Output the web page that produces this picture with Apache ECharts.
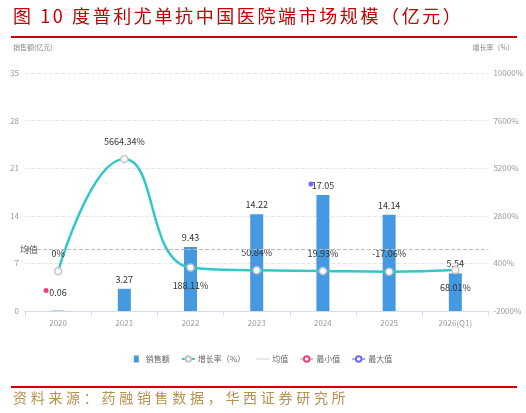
<!DOCTYPE html>
<html><head><meta charset="utf-8">
<script src="https://cdn.jsdelivr.net/npm/echarts@6/dist/echarts.min.js"></script>
<style>
html,body{margin:0;padding:0;background:#fff;width:526px;height:413px;overflow:hidden;position:relative;}
#title{position:absolute;left:13px;top:3px;font-family:"Noto Sans CJK SC",serif;font-size:18px;letter-spacing:2.6px;color:#c00000;white-space:nowrap;line-height:24px;}
.rule{position:absolute;left:11px;width:506px;height:2px;background:#cc0000;}
#src{position:absolute;left:13px;top:387px;font-family:"Noto Sans CJK SC",serif;font-size:14px;letter-spacing:3.7px;color:#b8904f;white-space:nowrap;line-height:20px;}
#chart{position:absolute;left:0;top:0;width:526px;height:413px;}
</style></head>
<body>
<div id="chart"></div>
<div id="title">图 10 度普利尤单抗中国医院端市场规模（亿元）</div>
<div class="rule" style="top:36px"></div>
<div class="rule" style="top:386px"></div>
<div id="src">资料来源：药融销售数据，华西证券研究所</div>
<script>
const categories = ['2020','2021','2022','2023','2024','2025','2026(Q1)'];
const sales = [0.06, 3.27, 9.43, 14.22, 17.05, 14.14, 5.54];
const growth = [0, 5664.34, 188.11, 50.84, 19.93, -17.06, 68.01];
const leftTicks = {min: 0, max: 35, interval: 7};
const rightTicks = {min: -2000, max: 10000, interval: 2400};

const minIdx = sales.indexOf(Math.min(...sales));
const belowIdx = new Set([2, 6]);
const gray = '#9a9a9a';

const chart = echarts.init(document.getElementById('chart'));
chart.setOption({
  animation: false,
  textStyle: {fontFamily: '"Noto Sans CJK SC", sans-serif'},
  grid: {left: 25, right: 36, top: 73, bottom: 102},
  graphic: [
    {type: 'text', left: 13, top: 44, style: {text: '销售额(亿元)', fill: '#888', font: '7px "Noto Sans CJK SC"'}},
    {type: 'text', right: 12, top: 44, style: {text: '增长率（%）', fill: '#888', font: '7px "Noto Sans CJK SC"'}}
  ],
  legend: {
    top: 350, left: 'center', itemWidth: 13, itemHeight: 7, itemGap: 11,
    textStyle: {color: '#666', fontSize: 8, padding: [0, 0, 0, -2]},
    data: [
      {name: '销售额', icon: 'path://M0,0h5v7h-5z'},
      {name: '增长率（%）'},
      {name: '均值', icon: 'path://M0,3h14v1h-14z', itemStyle: {color: '#cfcfcf'}},
      {name: '最小值'}, {name: '最大值'}
    ]
  },
  xAxis: {
    type: 'category', data: categories,
    axisLine: {lineStyle: {color: '#d3dce6'}},
    axisTick: {show: true, lineStyle: {color: '#d3dce6'}},
    axisLabel: {color: gray, fontSize: 8, margin: 8}
  },
  yAxis: [
    {type: 'value', min: leftTicks.min, max: leftTicks.max, interval: leftTicks.interval,
     axisLabel: {color: gray, fontSize: 8, margin: 6},
     splitLine: {lineStyle: {color: '#e6e6e6', type: 'dashed'}}},
    {type: 'value', min: rightTicks.min, max: rightTicks.max, interval: rightTicks.interval,
     axisLabel: {color: gray, fontSize: 8, margin: 5, formatter: v => v + '%'},
     splitLine: {show: false}}
  ],
  series: [
    {
      name: '销售额', type: 'bar', barWidth: 13,
      itemStyle: {color: '#4599e0'},
      label: {show: true, position: 'top', color: '#333', fontSize: 9, distance: 5},
      data: sales.map((v, i) => i === minIdx ? {value: v, label: {offset: [0, -9]}} : v),
      markPoint: {
        symbol: 'circle', symbolSize: 5, label: {show: false},
        data: [
          {type: 'min', itemStyle: {color: '#f0407a'}, symbolOffset: [-12, -20]},
          {type: 'max', itemStyle: {color: '#6b6bf5'}, symbolOffset: [-12, -11]}
        ]
      },
      markLine: {
        silent: true, symbol: ['arrow', 'none'], symbolSize: 5,
        lineStyle: {color: '#bbb', type: 'dashed', width: 1},
        label: {show: true, position: 'start', distance: -13, formatter: '均值', color: '#555', fontSize: 9},
        data: [{type: 'average'}]
      }
    },
    {
      name: '增长率（%）', type: 'line', yAxisIndex: 1, smooth: true,
      symbol: 'circle', symbolSize: 7,
      lineStyle: {color: '#33c8c8', width: 2.5},
      itemStyle: {color: '#fff', borderColor: '#c4c4c4', borderWidth: 1.5},
      label: {show: true, color: '#333', fontSize: 9, distance: 9, formatter: p => p.value + '%'},
      data: growth.map((v, i) => belowIdx.has(i) ? {value: v, label: {position: 'bottom'}} : {value: v, label: {position: 'top'}})
    },
    {name: '均值', type: 'line', data: [], symbol: 'none', lineStyle: {color: '#cfcfcf', width: 1}, itemStyle: {color: '#cfcfcf'}},
    {name: '最小值', type: 'line', data: [], symbol: 'emptyCircle', lineStyle: {color: '#c8c8c8', width: 1}, itemStyle: {color: '#f0407a', borderWidth: 2}},
    {name: '最大值', type: 'line', data: [], symbol: 'emptyCircle', lineStyle: {color: '#a8a8f0', width: 1}, itemStyle: {color: '#6b6bf5', borderWidth: 2}}
  ]
});
</script>
</body></html>
